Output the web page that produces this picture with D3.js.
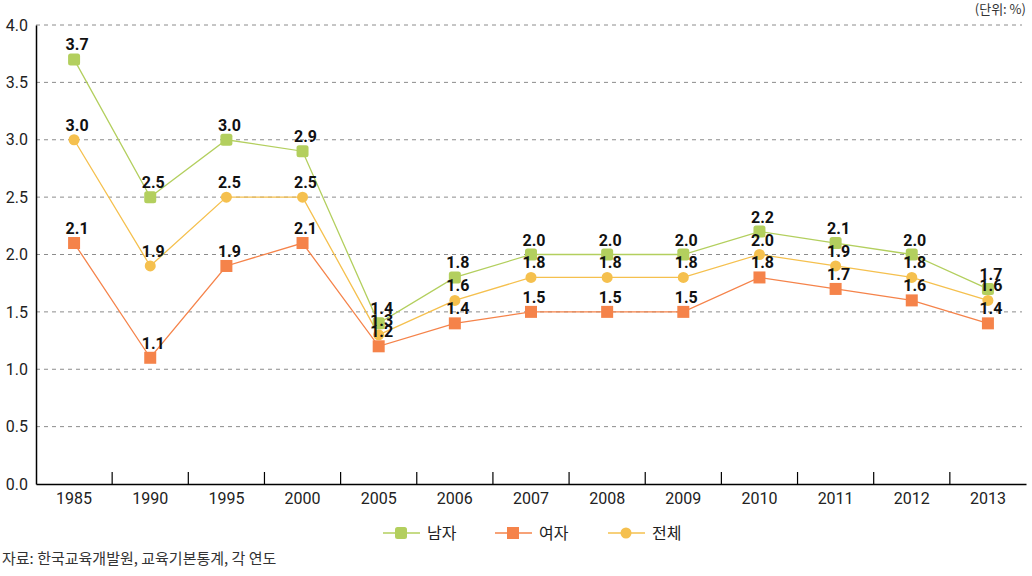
<!DOCTYPE html>
<html><head><meta charset="utf-8">
<script src="https://cdn.jsdelivr.net/npm/d3@7"></script>
<style>
body{margin:0;background:#fff;}
svg{display:block;}
text{font-family:"Liberation Sans Narrow","Roboto","Noto Sans CJK KR",sans-serif;}
.kr{font-family:"Noto Sans CJK KR","Noto Sans",sans-serif;}
</style></head>
<body>
<svg id="c" width="1032" height="576"></svg>
<script>
const years = ["1985","1990","1995","2000","2005","2006","2007","2008","2009","2010","2011","2012","2013"];
const male =   [3.7,2.5,3.0,2.9,1.4,1.8,2.0,2.0,2.0,2.2,2.1,2.0,1.7];
const female = [2.1,1.1,1.9,2.1,1.2,1.4,1.5,1.5,1.5,1.8,1.7,1.6,1.4];
const total =  [3.0,1.9,2.5,2.5,1.3,1.6,1.8,1.8,1.8,2.0,1.9,1.8,1.6];
const yTicks = [0,0.5,1.0,1.5,2.0,2.5,3.0,3.5,4.0];
const seriesNames = ["남자","여자","전체"];

const series = [
  {name:seriesNames[0], values:male, color:"#b3cf5e", shape:"rsq"},
  {name:seriesNames[1], values:female, color:"#f5834a", shape:"sq"},
  {name:seriesNames[2], values:total, color:"#f5c04e", shape:"circle"}
];

const svg = d3.select("#c");
const L=36, R=1026, T=25, B=484;
const x = d3.scaleBand().domain(years).range([L,R]);
const y = d3.scaleLinear().domain([0,4]).range([B,T]);

// grid
svg.append("g").selectAll("line").data(yTicks.filter(d=>d>0)).join("line")
  .attr("x1",L).attr("x2",1022).attr("y1",d=>y(d)).attr("y2",d=>y(d))
  .attr("stroke","#8c8c8c").attr("stroke-width",1).attr("stroke-dasharray","4,4");

// y axis
const ya = svg.append("g").attr("transform",`translate(${L},0)`)
  .call(d3.axisLeft(y).tickValues(yTicks).tickFormat(d3.format(".1f")).tickSize(0).tickPadding(8));
ya.select(".domain").attr("stroke","#000").attr("stroke-width",1.5);
ya.selectAll("text").attr("font-size",16).attr("fill","#222")
  .style("font-family","'Liberation Sans Narrow',Roboto,sans-serif");

// x axis
const xa = svg.append("g").attr("transform",`translate(0,${B})`)
  .call(d3.axisBottom(x).tickSize(0).tickPadding(9));
xa.select(".domain").attr("stroke","#000").attr("stroke-width",1.5);
xa.selectAll("text").attr("font-size",16).attr("fill","#222")
  .style("font-family","'Liberation Sans Narrow',Roboto,sans-serif");
// boundary ticks (inward)
svg.append("g").selectAll("line").data(years.slice(1)).join("line")
  .attr("x1",d=>x(d)).attr("x2",d=>x(d)).attr("y1",B).attr("y2",B-12)
  .attr("stroke","#000").attr("stroke-width",1.2);

const cx = d=>x(d)+x.bandwidth()/2;

function drawMarker(g, shape, color, px, py){
  if(shape==="circle"){
    g.append("circle").attr("cx",px).attr("cy",py).attr("r",5.5).attr("fill",color);
  } else if(shape==="rsq"){
    g.append("rect").attr("x",px-6).attr("y",py-6).attr("width",12).attr("height",12)
      .attr("rx",2.5).attr("fill",color);
  } else {
    g.append("rect").attr("x",px-6).attr("y",py-6).attr("width",12).attr("height",12).attr("fill",color);
  }
}

const line = d3.line().x((d,i)=>cx(years[i])).y(d=>y(d));
series.forEach(s=>{
  svg.append("path").datum(s.values).attr("d",line).attr("fill","none")
    .attr("stroke",s.color).attr("stroke-width",1.3);
});
series.forEach(s=>{
  const g = svg.append("g");
  s.values.forEach((v,i)=>drawMarker(g,s.shape,s.color,cx(years[i]),y(v)));
});
// labels
series.forEach(s=>{
  svg.append("g").selectAll("text").data(s.values).join("text")
    .attr("x",(d,i)=>cx(years[i])+3).attr("y",d=>y(d)-9)
    .attr("text-anchor","middle").attr("font-size",16).attr("font-weight","bold")
    .attr("fill","#111").text(d=>d.toFixed(1));
});

// legend
const lg = svg.append("g");
const lx = [383,495,608];
series.forEach((s,i)=>{
  const g = lg.append("g");
  g.append("line").attr("x1",lx[i]).attr("x2",lx[i]+37).attr("y1",533).attr("y2",533)
    .attr("stroke",s.color).attr("stroke-width",1.3);
  drawMarker(g,s.shape,s.color,lx[i]+18,533);
  g.append("text").attr("class","kr").attr("x",lx[i]+44).attr("y",539)
    .attr("font-size",16).attr("fill","#222").text(s.name);
});

// unit
svg.append("text").attr("class","kr").attr("x",1026).attr("y",14).attr("text-anchor","end")
  .attr("font-size",13).attr("fill","#333").text("(단위: %)");
// source
svg.append("text").attr("class","kr").attr("x",2).attr("y",564)
  .attr("font-size",15).attr("fill","#333").text("자료: 한국교육개발원, 교육기본통계, 각 연도");
</script>
</body></html>
